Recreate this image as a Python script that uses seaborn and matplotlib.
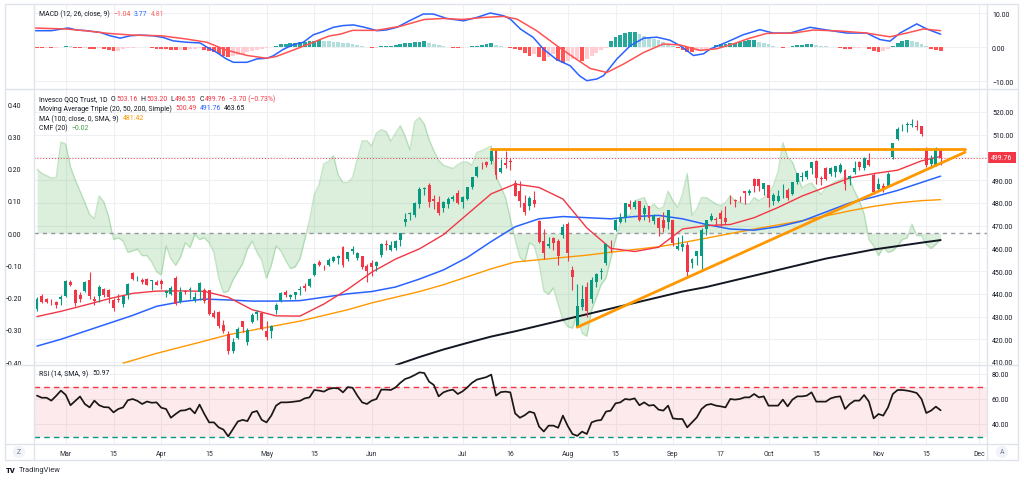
import numpy as np
import matplotlib
matplotlib.use("Agg")
import matplotlib.pyplot as plt
from matplotlib.patches import Rectangle, Circle
from matplotlib.ticker import FuncFormatter
import seaborn as sns

# ---------------- data (daily bars, Feb 22 - Nov 20, 2024) ----------------
open_ = [433.5, 438.9, 437.6, 437.3, 436.4, 437.6, 439.2, 445.2, 441.6, 439.5,
         441.3, 446.2, 437.6, 439.0, 442.1, 441.6, 437.4, 437.8, 435.4, 439.4,
         449.1, 446.3, 446.1, 446.6, 445.6, 445.4, 445.5, 440.2, 439.8, 447.0,
         436.5, 441.4, 441.9, 437.4, 440.6, 441.8, 441.5, 431.4, 432.1, 426.4,
         422.2, 415.0, 420.6, 427.9, 418.9, 427.8, 431.0, 431.7, 423.7, 423.5,
         432.8, 436.9, 440.9, 438.4, 439.5, 441.8, 443.6, 443.4, 448.2, 453.8,
         452.4, 452.8, 454.3, 455.9, 460.6, 455.1, 458.9, 455.6, 456.5, 452.4,
         453.4, 452.2, 457.2, 462.0, 459.4, 460.2, 463.6, 471.6, 475.0, 474.7,
         479.3, 486.2, 487.9, 481.7, 480.6, 477.6, 479.6, 481.6, 484.2, 480.2,
         481.5, 487.1, 491.7, 497.2, 498.2, 498.6, 503.3, 493.6, 497.4, 498.6,
         488.7, 485.2, 479.9, 478.8, 481.4, 472.1, 463.2, 461.2, 464.7, 463.2,
         465.7, 470.7, 450.3, 425.6, 434.4, 442.8, 437.8, 445.1, 449.5, 453.6,
         462.4, 468.1, 471.7, 473.7, 479.6, 478.3, 480.7, 475.3, 478.5, 472.2,
         473.5, 472.4, 471.7, 472.5, 459.7, 460.8, 461.4, 453.4, 456.8, 456.7,
         468.4, 472.5, 473.1, 475.6, 473.3, 482.2, 481.3, 482.1, 485.2, 484.5,
         490.7, 490.3, 486.1, 487.7, 481.0, 480.8, 487.8, 485.9, 483.9, 489.2,
         491.2, 491.4, 495.2, 498.3, 491.0, 495.3, 492.5, 493.7, 493.4, 494.5,
         490.3, 493.4, 498.1, 495.4, 498.9, 492.4, 486.0, 487.3, 487.3, 500.3,
         508.3, 512.9, 514.4, 514.4, 514.0, 513.7, 503.8, 497.3, 496.7, 503.16]
high = [438.6, 440.1, 438.2, 437.8, 437.0, 439.3, 446.0, 446.3, 442.0, 440.7,
        445.5, 449.4, 438.9, 443.7, 442.5, 442.0, 438.0, 439.9, 439.2, 444.7,
        449.5, 447.9, 446.9, 447.1, 446.0, 446.2, 446.7, 441.6, 443.6, 447.9,
        442.8, 441.9, 443.1, 440.6, 445.3, 442.6, 441.9, 432.9, 432.3, 428.3,
        423.6, 420.5, 425.6, 428.2, 424.9, 431.4, 432.8, 432.1, 428.0, 426.3,
        435.9, 440.9, 441.5, 440.1, 440.9, 443.3, 444.6, 446.9, 453.6, 454.7,
        452.9, 455.9, 456.5, 457.3, 461.0, 458.6, 460.9, 458.5, 456.6, 453.1,
        454.8, 454.4, 462.4, 463.6, 463.3, 463.6, 466.9, 475.6, 475.9, 480.3,
        487.0, 487.0, 488.6, 483.3, 483.0, 480.8, 482.4, 483.6, 485.8, 483.0,
        486.9, 491.3, 496.3, 498.0, 498.6, 503.5, 503.4, 499.3, 502.8, 499.7,
        489.9, 489.5, 483.5, 483.1, 485.2, 472.4, 468.5, 465.1, 465.2, 464.0,
        470.6, 471.8, 452.4, 444.5, 443.7, 445.2, 447.5, 449.2, 451.2, 461.8,
        463.7, 472.8, 475.4, 480.0, 481.1, 481.2, 480.8, 479.3, 478.7, 475.1,
        473.9, 476.1, 477.0, 472.7, 465.1, 466.1, 462.8, 455.9, 459.0, 468.9,
        472.7, 475.4, 473.7, 476.7, 478.5, 483.7, 481.7, 483.0, 485.2, 486.2,
        490.8, 490.4, 488.8, 487.9, 484.5, 485.8, 488.2, 486.5, 489.4, 493.3,
        493.6, 494.4, 498.2, 498.8, 492.0, 495.7, 495.6, 496.4, 497.5, 494.8,
        492.3, 498.5, 498.6, 500.3, 502.0, 493.2, 491.0, 488.7, 493.4, 506.4,
        513.5, 514.6, 515.4, 516.8, 516.5, 514.0, 504.6, 501.0, 504.4, 503.20]
low = [432.4, 435.9, 435.8, 435.1, 433.9, 435.3, 438.6, 443.5, 434.6, 436.6,
       440.9, 437.9, 435.2, 436.5, 438.6, 435.9, 432.6, 436.6, 434.4, 437.7,
       446.2, 445.6, 444.5, 443.7, 441.6, 443.9, 442.2, 438.8, 439.5, 435.2,
       436.1, 439.8, 437.6, 436.4, 437.3, 436.1, 430.6, 429.2, 424.9, 422.6,
       413.6, 414.0, 420.1, 423.0, 417.5, 427.3, 428.6, 423.9, 419.9, 420.6,
       431.2, 436.5, 438.7, 437.6, 437.9, 439.6, 441.1, 442.9, 447.8, 452.2,
       450.4, 452.4, 453.9, 453.1, 451.9, 454.6, 457.4, 454.9, 451.0, 445.4,
       448.0, 450.2, 456.4, 459.1, 459.0, 459.3, 460.9, 469.9, 472.6, 474.0,
       477.9, 483.3, 478.3, 477.4, 474.9, 476.0, 477.7, 480.8, 479.5, 477.9,
       481.2, 486.3, 491.2, 495.1, 496.0, 497.1, 490.6, 493.1, 495.2, 494.7,
       483.0, 478.2, 474.9, 476.9, 478.4, 462.5, 455.5, 460.0, 459.3, 452.9,
       464.5, 454.6, 441.6, 425.3, 432.9, 430.0, 435.9, 442.9, 446.7, 452.9,
       458.6, 467.7, 471.2, 471.8, 477.3, 477.4, 472.2, 472.7, 471.8, 470.8,
       465.6, 467.1, 468.6, 461.1, 459.3, 458.7, 448.0, 451.4, 452.8, 450.1,
       466.1, 471.9, 470.0, 469.3, 470.6, 479.6, 478.3, 480.5, 479.7, 483.7,
       484.7, 485.4, 483.6, 478.3, 479.1, 480.4, 482.1, 481.3, 483.6, 488.3,
       489.6, 490.7, 492.7, 488.3, 488.1, 490.0, 491.7, 491.3, 493.3, 485.5,
       488.1, 492.7, 494.6, 494.6, 496.3, 483.9, 485.5, 484.7, 487.3, 499.5,
       507.6, 511.5, 511.2, 513.3, 511.9, 509.5, 496.0, 495.4, 496.2, 496.55]
close = [437.9, 436.6, 436.3, 437.1, 435.1, 438.7, 445.6, 443.8, 435.9, 437.9,
         445.2, 439.1, 436.9, 443.0, 439.4, 438.6, 433.6, 437.1, 438.9, 444.5,
         446.4, 446.7, 445.1, 444.0, 445.9, 444.0, 444.2, 441.3, 442.6, 435.4,
         440.8, 440.6, 442.1, 438.6, 444.9, 436.7, 431.3, 430.0, 426.0, 423.6,
         414.7, 418.9, 424.7, 425.4, 424.1, 430.6, 432.2, 424.6, 421.0, 425.8,
         435.1, 440.2, 439.6, 439.4, 440.8, 442.1, 442.4, 446.3, 453.1, 452.6,
         452.2, 455.0, 456.0, 456.5, 452.6, 458.2, 459.6, 457.9, 451.6, 450.0,
         451.9, 454.0, 462.1, 461.5, 461.6, 463.3, 466.8, 473.1, 475.6, 479.8,
         486.2, 486.5, 480.6, 480.8, 475.4, 480.3, 481.8, 482.4, 479.9, 482.5,
         486.8, 491.2, 496.0, 497.0, 496.8, 503.0, 492.1, 495.4, 496.8, 498.1,
         483.1, 480.7, 475.9, 482.0, 479.6, 462.9, 458.0, 462.0, 462.5, 456.7,
         469.4, 458.1, 447.5, 434.6, 437.9, 432.3, 446.0, 448.7, 450.0, 461.8,
         462.2, 472.6, 473.7, 479.9, 478.3, 480.2, 472.6, 477.8, 473.5, 474.3,
         469.0, 468.8, 477.0, 462.5, 460.9, 462.0, 449.4, 455.1, 459.0, 468.2,
         472.3, 474.3, 472.4, 472.7, 471.4, 482.0, 480.9, 482.0, 484.5, 485.3,
         487.6, 487.5, 488.8, 482.0, 483.3, 483.1, 488.0, 482.3, 489.2, 493.3,
         492.0, 494.1, 498.1, 490.8, 490.7, 490.7, 495.2, 496.1, 496.6, 488.2,
         491.9, 495.4, 495.6, 499.7, 496.8, 484.6, 488.1, 486.7, 492.9, 506.3,
         512.4, 513.1, 514.5, 514.5, 513.3, 510.4, 496.8, 499.4, 503.5, 499.76]

# moving averages, read every 5 bars
ma_x = list(range(0, 186, 5)) + [189]
sma20 = [430, 432.3, 435, 437.8, 440.2, 441.2, 441.3, 441.1, 438.5, 433, 430.3, 430.2,
         435.5, 442, 449.5, 455.3, 459.8, 466, 475, 484, 488.3, 486.8, 481.7, 469, 460,
         458.6, 460.5, 468.5, 470, 470.5, 473.5, 478, 483, 487, 491, 492.9, 494.4, 498.5, 500.49]
sma50 = [417, 420, 423.5, 427, 430.5, 434.5, 436.5, 437.7, 437.3, 436.8, 436.8, 437,
         438.5, 440, 441, 443, 446.5, 450.5, 456, 463, 469.5, 473, 474, 473.5, 473,
         474, 474.5, 473, 470.5, 468.5, 468, 469.5, 472, 476, 480, 482.6, 485.5, 489, 491.76]
ma100_x = [18] + list(range(20, 186, 5)) + [189]
sma100 = [409.5, 410.7, 413.8, 416.5, 419.2, 422, 424, 426, 428, 430.5, 433, 436, 438.5,
          441, 444, 447.5, 451, 454, 455, 456, 457, 458.3, 459.5, 460.7, 462.5, 464.5,
          466.5, 468.5, 470.3, 472.2, 474.3, 476.5, 478.5, 480, 481, 481.42]
ma200_x = list(range(75, 186, 5)) + [189]
sma200 = [408.6, 412.2, 415.5, 418.4, 421.2, 423.5, 426, 428.5, 431, 433.5, 436, 438.5,
          441, 443, 445.5, 448, 450.5, 453, 455.5, 457.5, 459.5, 461, 462.5, 463.65]

cmf = [0.198, 0.185, 0.178, 0.17, 0.172, 0.282, 0.276, 0.205, 0.165, 0.13,
       0.095, 0.058, 0.045, 0.115, 0.096, 0.05, -0.02, -0.015, -0.025, -0.06,
       -0.055, -0.05, -0.07, -0.07, -0.09, -0.12, -0.13, -0.04, -0.08, -0.1,
       -0.075, -0.03, -0.045, -0.005, -0.02, -0.015, -0.03, -0.06, -0.14, -0.185,
       -0.18, -0.145, -0.12, -0.095, -0.05, -0.025, -0.06, -0.085, -0.14, -0.1,
       -0.04, -0.055, -0.085, -0.11, -0.105, -0.08, -0.02, 0.04, 0.12, 0.15,
       0.215, 0.222, 0.24, 0.18, 0.157, 0.157, 0.172, 0.23, 0.285, 0.286,
       0.27, 0.31, 0.32, 0.315, 0.285, 0.31, 0.333, 0.3, 0.258, 0.345,
       0.358, 0.338, 0.29, 0.255, 0.225, 0.21, 0.205, 0.2, 0.212, 0.22,
       0.22, 0.21, 0.25, 0.255, 0.262, 0.27, 0.175, 0.145, 0.11, 0.045,
       -0.02, -0.075, -0.09, -0.03, -0.04, -0.095, -0.18, -0.19, -0.17, -0.22,
       -0.27, -0.29, -0.295, -0.25, -0.31, -0.32, -0.24, -0.2, -0.16, -0.14,
       -0.08, -0.02, 0.03, 0.055, 0.055, 0.1, 0.105, 0.11, 0.075, 0.09,
       0.075, 0.08, 0.13, 0.1, 0.08, 0.12, 0.185, 0.055, 0.075, 0.11,
       0.11, 0.1, 0.09, 0.085, 0.095, 0.115, 0.1, 0.095, 0.09, 0.09,
       0.11, 0.1, 0.11, 0.12, 0.147, 0.19, 0.28, 0.235, 0.22, 0.18,
       0.14, 0.15, 0.155, 0.136, 0.12, 0.14, 0.15, 0.16, 0.165, 0.175,
       0.165, 0.13, 0.1, 0.06, -0.02, -0.04, -0.07, -0.045, -0.06, -0.055,
       -0.04, -0.02, -0.015, 0.028, -0.008, -0.008, -0.035, -0.048, -0.035, -0.02]

rsi = [62.7, 61, 61, 58.7, 62.5, 66.7, 63.3, 55, 58.5, 62,
       56, 53.3, 58.7, 55, 53.5, 53.3, 49.3, 52, 53.3, 59,
       60, 58.5, 56, 58, 57, 57.3, 53, 52, 45, 48,
       50.7, 51, 52.5, 48.5, 55.5, 48, 41.3, 41.3, 37.3, 35.5,
       30.1, 36, 42, 43.3, 42.3, 49.3, 50.4, 43.3, 41.3, 46.7,
       54.7, 57.3, 57.3, 57.5, 58, 58.5, 60.5, 61.3, 67.2, 66.7,
       65.9, 68, 68.8, 68.5, 65.3, 69.5, 69, 62.7, 57.3, 56,
       58.7, 60, 67.5, 67.5, 67.2, 69.3, 73, 76, 77.3, 79.2,
       81.3, 80.8, 73.9, 71.2, 62.1, 65.3, 66.7, 67.5, 64, 66.1,
       69.3, 73, 75.5, 76.5, 77.5, 79.5, 62.7, 65.5, 65.9, 65.3,
       48.5, 45, 47, 49.9, 48.8, 38, 34, 38.7, 38.7, 37,
       46.7, 38.5, 32, 30.5, 33.9, 32, 41.3, 42.7, 43.2, 49.9,
       50.7, 56.5, 57.3, 60, 59.5, 60.5, 55, 57.3, 54.7, 55.2,
       51.5, 50.7, 54.7, 44.5, 44, 44, 37.3, 41.3, 45.3, 52,
       55.2, 56, 54.7, 54.1, 53.3, 60, 59.5, 60, 61.3, 61.3,
       64, 61.3, 62.1, 54.7, 54.7, 54.7, 59.5, 54.1, 59.5, 62.1,
       62.1, 62.7, 65.3, 57.9, 57.9, 57.9, 60.5, 61.6, 62.1, 52,
       56, 58.7, 58.7, 63.2, 57.9, 44.5, 48, 46.7, 53.3, 64,
       67.2, 67.2, 66.7, 65.9, 64.8, 60, 48.8, 50.7, 53.9, 50.97]

macd_x = [-1, 3, 6.5, 8.3, 10.4, 13.2, 15.3, 17.4, 19.5, 21.5, 24.3, 26.4, 28.5, 31.3, 34.1,
          35.5, 37.6, 39.6, 41.1, 43.9, 46, 48.1, 49.4, 51.5, 53.6, 55.7, 57.8, 59.9, 62, 64,
          66.2, 68.5, 71.1, 73, 75.3, 78, 80.8, 82.9, 85.7, 89.2, 92, 94.8, 97.6, 99, 101.1,
          103.8, 105.9, 108.7, 111.5, 113.5, 115, 117.1, 118.5, 121.3, 124.1, 126.9, 129.6,
          132.4, 134.5, 137.3, 139.4, 140.8, 144.2, 147.7, 151.2, 154, 157.5, 161.7, 165.2,
          169.4, 173.5, 176.3, 178.4, 180.5, 184, 186.1, 189]
macd_v = [4.8, 4.8, 5.6, 5.0, 4.8, 4.3, 3.3, 2.6, 3.3, 3.5, 3.3, 2.8, 1.8, 1.4, 1.2,
          0.0, -1.6, -3.5, -4.5, -4.5, -3.5, -3.3, -2.6, -0.7, 0.7, 1.4, 3.6, 4.6, 5.8, 6.3,
          6.5, 5.8, 4.8, 5.0, 5.8, 7.8, 9.7, 9.7, 8.4, 7.7, 8.7, 10.0, 9.2, 8.2, 5.3,
          2.8, -0.6, -3.7, -5.5, -8.5, -9.9, -9.4, -8.4, -3.5, 0.4, 2.6, 2.9,
          2.0, 0.4, -2.5, -2.0, -0.6, 1.4, 3.6, 5.1, 4.1, 4.1, 5.8, 5.0,
          4.1, 4.1, 2.2, 1.7, 4.1, 6.8, 5.3, 3.77]
sig_x = [-1, 6, 10, 15, 20, 26, 31, 35.5, 39.6, 44, 48, 50, 53.6, 57.8, 61, 63.5, 66, 71, 76,
         81, 85, 89, 93.4, 97.6, 100.4, 104.5, 108.7, 112.2, 115.7, 119.2, 122.7, 126.9, 131,
         134.5, 138.7, 142.2, 145.6, 149.1, 152.6, 158.2, 162.4, 168, 173.5, 178.4, 181.9, 185.4, 189]
sig_v = [5.6, 5.3, 4.8, 4.0, 3.5, 3.3, 2.4, 1.4, -0.9, -2.5, -3.3, -2.8, -0.9, 1.4, 3.2, 3.8, 4.9,
         4.9, 6.1, 8.1, 8.4, 8.1, 8.7, 9.0, 8.2, 4.8, 0.4, -3.0, -6.3, -7.5, -5.0, -1.6, 0.9,
         0.6, -1.0, -0.5, 0.9, 2.6, 4.0, 4.1, 5.0, 4.7, 4.1, 3.0, 4.1, 5.3, 4.81]
hist = [-0.3, -0.3, -0.2, -0.3, -0.2, 0.1, 0.3, 0.2, -0.3, -0.4,
        -0.3, -0.5, -0.6, -0.4, -0.7, -1.0, -1.3, -1.2, -0.7, -0.4,
        -0.2, -0.1, -0.05, -0.1, -0.2, -0.5, -0.5, -0.6, -0.9, -1.0,
        -0.8, -0.8, -0.6, -0.5, -0.4, -0.8, -1.2, -1.6, -2.2, -2.6,
        -3.0, -2.7, -2.3, -2.0, -1.6, -1.2, -0.9, -0.5, -0.2, -0.1,
        0.4, 0.8, 1.0, 1.2, 1.3, 1.4, 1.5, 1.7, 1.9, 2.0,
        1.8, 1.7, 1.6, 1.4, 1.3, 1.2, 0.9, 0.6, 0.3, -0.1,
        -0.3, -0.2, 0.2, 0.3, 0.4, 0.5, 0.8, 1.1, 1.3, 1.5,
        1.6, 1.8, 1.3, 0.8, 0.5, 0.2, -0.1, -0.3, -0.4, -0.2,
        -0.1, 0.2, 0.4, 0.6, 0.8, 1.1, 0.5, 0.3, 0.1, -0.2,
        -0.6, -1.0, -1.8, -2.5, -2.0, -3.0, -4.0, -2.8, -2.2, -4.0,
        -4.8, -4.2, -3.6, -3.5, -4.0, -3.4, -2.6, -1.8, -1.0, -0.3,
        1.8, 2.8, 3.5, 4.2, 4.3, 4.3, 3.8, 3.2, 2.8, 2.4,
        2.0, 1.6, 1.0, 0.4, -0.3, -1.0, -1.5, -1.6, -1.3, -1.0,
        -0.6, 0.1, 0.5, 0.8, 0.9, 1.1, 1.3, 1.5, 1.8, 2.0,
        2.1, 1.6, 1.2, 0.8, 0.3, 0.1, -0.2, -0.1, 0.3, 0.5,
        0.7, 0.8, 0.9, 0.5, 0.3, 0.2, 0.1, 0.05, -0.2, -0.5,
        -0.6, -0.4, -0.2, -0.1, -0.6, -1.2, -1.5, -1.1, -0.6, 0.4,
        1.2, 1.7, 2.0, 1.8, 1.5, 1.0, 0.3, -0.5, -0.8, -1.04]

# trend lines drawn on the chart (bar index, price)
flat_x, flat_y = [95, 194.1], [503.6, 503.6]
rise_x, rise_y = [113, 194.1], [425.3, 502.3]
last_price = 499.76

tick_pos = [6, 16, 26, 36, 48, 58, 70, 89, 99, 111, 121, 133, 143, 153, 163, 176, 186, 197]
tick_lab = ["Mar", "15", "Apr", "15", "May", "15", "Jun", "Jul", "16", "Aug", "15",
            "Sep", "17", "Oct", "15", "Nov", "15", "Dec"]
price_ticks = list(range(410, 521, 10))
cmf_ticks = [-0.4, -0.3, -0.2, -0.1, 0.0, 0.1, 0.2, 0.3, 0.4]

# ---------------- figure ----------------
sns.set_theme(style="white")
plt.rcParams['font.family'] = ['Roboto', 'DejaVu Sans']

W, H = 1024, 481
fig = plt.figure(figsize=(W / 100, H / 100), dpi=100)
fig.patch.set_facecolor('white')


def box(x0, y0, x1, y1):
    return [x0 / W, 1 - y1 / H, (x1 - x0) / W, (y1 - y0) / H]


XL, XR = 34, 987
ax_macd = fig.add_axes(box(XL, 5, XR, 90))
ax_cmf = fig.add_axes(box(XL, 90, XR, 366))
ax_px = ax_cmf.twinx()
ax_rsi = fig.add_axes(box(XL, 366, XR, 445))

TXT = '#131722'
GRID = '#eef0f4'
RED = '#f23645'
GREEN_UP = '#089981'
BLUE = '#2962ff'
ORANGE = '#ff9800'
FS = 4.95

idx = np.arange(len(close))
xmin, xmax = -0.63, 198.7
P_LO, P_HI = 408.68, 530.12
C_LO, C_HI = -0.409, 0.4465

for a in (ax_macd, ax_cmf, ax_px, ax_rsi):
    a.set_xlim(xmin, xmax)
    for s in a.spines.values():
        s.set_visible(False)
    a.tick_params(length=0, labelsize=FS, colors=TXT)
    a.set_facecolor('white')
ax_px.patch.set_visible(False)

for a in (ax_macd, ax_cmf, ax_rsi):
    a.set_xticks(tick_pos)
    a.grid(axis='x', color=GRID, lw=0.8)
    a.set_axisbelow(True)
ax_macd.set_xticklabels([])
ax_cmf.set_xticklabels([])
ax_rsi.set_xticklabels(tick_lab)
ax_rsi.tick_params(axis='x', pad=4.0, labelsize=FS, colors='#2a2e39')

fmt2 = FuncFormatter(lambda v, p: f"{v:.2f}".replace('-', '\u2212'))

# ---------------- MACD pane ----------------
ax_macd.set_ylim(-12.35, 12.65)
hcol = []
prev = 0.0
for h in hist:
    if h >= 0:
        hcol.append('#26a69a' if h >= prev else '#b2dfdb')
    else:
        hcol.append('#ff5252' if h <= prev else '#ffcdd2')
    prev = h
ax_macd.bar(idx, hist, width=0.8, color=hcol, lw=0, zorder=2)
sns.lineplot(x=macd_x, y=macd_v, ax=ax_macd, color=BLUE, lw=1.1, zorder=3)
sns.lineplot(x=sig_x, y=sig_v, ax=ax_macd, color='#ff5252', lw=1.1, zorder=3)
ax_macd.yaxis.tick_right()
ax_macd.set_yticks([-10, 0, 10])
ax_macd.yaxis.set_major_formatter(fmt2)
ax_macd.tick_params(axis='y', pad=3.6)
ax_macd.grid(axis='y', color=GRID, lw=0.8)

# ---------------- main pane ----------------
ax_cmf.set_ylim(C_LO, C_HI)
ax_px.set_ylim(P_LO, P_HI)
for p in price_ticks:
    ax_cmf.axhline(C_LO + (p - P_LO) * (C_HI - C_LO) / (P_HI - P_LO), color=GRID, lw=0.8, zorder=0)
ax_cmf.fill_between(idx, cmf, 0, color='#4caf50', alpha=0.2, lw=0, zorder=1)
sns.lineplot(x=idx, y=cmf, ax=ax_cmf, color='#4caf50', alpha=0.3, lw=1.0, zorder=2)
ax_cmf.axhline(0, color='#9598a1', lw=1.0, ls=(0, (3, 3)), zorder=2)
ax_cmf.yaxis.tick_left()
ax_cmf.set_yticks(cmf_ticks)
ax_cmf.yaxis.set_major_formatter(fmt2)
ax_cmf.tick_params(axis='y', pad=9.0)
ax_cmf.grid(axis='y', visible=False)

# moving averages
sns.lineplot(x=ma200_x, y=sma200, ax=ax_px, color=TXT, lw=1.4, zorder=2)
sns.lineplot(x=ma100_x, y=sma100, ax=ax_px, color=ORANGE, lw=1.0, zorder=2)
sns.lineplot(x=ma_x, y=sma50, ax=ax_px, color=BLUE, lw=1.1, zorder=2)
sns.lineplot(x=ma_x, y=sma20, ax=ax_px, color=RED, lw=1.0, zorder=2)

# candles
o = np.array(open_); c = np.array(close); hi = np.array(high); lo = np.array(low)
ccol = np.where(c >= o, GREEN_UP, RED)
ax_px.vlines(idx, lo, hi, colors=ccol, lw=0.8, zorder=4)
ax_px.bar(idx, np.maximum(np.abs(c - o), 0.25), bottom=np.minimum(o, c), width=0.62,
          color=ccol, lw=0, zorder=5)

# trend lines
sns.lineplot(x=flat_x, y=flat_y, ax=ax_px, color=ORANGE, lw=2.0, zorder=6)
sns.lineplot(x=rise_x, y=rise_y, ax=ax_px, color=ORANGE, lw=2.0, zorder=6)
ax_px.axhline(last_price, color=RED, lw=0.7, ls=(0, (1, 2)), zorder=3)

ax_px.yaxis.tick_right()
ax_px.set_yticks(price_ticks)
ax_px.yaxis.set_major_formatter(fmt2)
ax_px.tick_params(axis='y', pad=3.6, labelsize=FS, colors=TXT, length=0)
ax_px.grid(False)

# ---------------- RSI pane ----------------
ax_rsi.set_ylim(24, 87.2)
ax_rsi.axhspan(30, 70, color=RED, alpha=0.1, lw=0, zorder=1)
ax_rsi.axhline(70, color=RED, lw=1.0, ls=(0, (4, 3)), zorder=2)
ax_rsi.axhline(30, color=GREEN_UP, lw=1.0, ls=(0, (4, 3)), zorder=2)
sns.lineplot(x=idx, y=rsi, ax=ax_rsi, color='#1c1717', lw=1.25, zorder=3)
ax_rsi.yaxis.tick_right()
ax_rsi.set_yticks([40, 60, 80])
ax_rsi.yaxis.set_major_formatter(fmt2)
ax_rsi.tick_params(axis='y', pad=3.6)
ax_rsi.grid(axis='y', color=GRID, lw=0.8)

for a in (ax_macd, ax_cmf, ax_px, ax_rsi):
    a.set_xlabel('')
    a.set_ylabel('')
    if a.get_legend() is not None:
        a.get_legend().remove()

# ---------------- overlay: frame, legends, labels ----------------
ov = fig.add_axes([0, 0, 1, 1], zorder=10)
ov.set_xlim(0, W)
ov.set_ylim(H, 0)
ov.axis('off')
ov.patch.set_alpha(0)
BC = '#e0e3eb'
ov.add_patch(Rectangle((5, 5), 1013, 456, fill=False, ec=BC, lw=1))
for yy in (90, 366, 445):
    ov.plot([5, 1018], [yy, yy], color=BC, lw=1)
for xx in (XL, XR):
    ov.plot([xx, xx], [5, 461], color=BC, lw=1)

ov.add_patch(Rectangle((987, 153), 29, 11, color=RED, lw=0))
ov.text(1001.5, 158.5, f"{last_price:.2f}", color='white', fontsize=FS, ha='center', va='center')

ov.add_patch(Circle((19, 453), 5.5, color='#f0f3fa'))
ov.text(19, 453, "Z", color='#787b86', fontsize=FS, ha='center', va='center')
ov.add_patch(Circle((1002, 453), 5.5, color='#f0f3fa'))
ov.text(1002, 453, "A", color='#787b86', fontsize=FS, ha='center', va='center')

ov.text(6, 471, "TV", color=TXT, fontsize=5.5, fontweight='heavy', ha='left', va='center')
ov.text(19, 471, "TradingView", color='#2a2e39', fontsize=5.4, ha='left', va='center')

fig.canvas.draw()
rend = fig.canvas.get_renderer()


def seq(x, y, parts):
    for s, col, gap in parts:
        t = ov.text(x, y, s, color=col, fontsize=FS, ha='left', va='center')
        bb = t.get_window_extent(renderer=rend)
        x += bb.width + gap


M = '\u2212'
seq(39, 14, [("MACD (12, 26, close, 9)", TXT, 4.0), (M + "1.04", '#ff5252', 3.0),
             ("3.77", BLUE, 3.0), ("4.81", '#ff6b6b', 0)])
seq(39, 99.5, [("Invesco QQQ Trust, 1D", TXT, 3.5), ("O", TXT, 0.8), ("503.16", RED, 3.0),
               ("H", TXT, 0.8), ("503.20", RED, 3.0), ("L", TXT, 0.8), ("496.55", RED, 3.0),
               ("C", TXT, 0.8), ("499.76", RED, 3.0), (M + "3.70 (" + M + "0.73%)", RED, 0)])
seq(39, 109, [("Moving Average Triple (20, 50, 200, Simple)", TXT, 4.0), ("500.49", RED, 3.0),
              ("491.76", BLUE, 3.0), ("463.65", TXT, 0)])
seq(39, 119, [("MA (100, close, 0, SMA, 9)", TXT, 4.0), ("481.42", ORANGE, 0)])
seq(39, 128.5, [("CMF (20)", TXT, 4.0), (M + "0.02", '#43a047', 0)])
seq(39, 374, [("RSI (14, SMA, 9)", TXT, 4.0), ("50.97", TXT, 0)])

fig.savefig("out.png", dpi=100, facecolor='white')
